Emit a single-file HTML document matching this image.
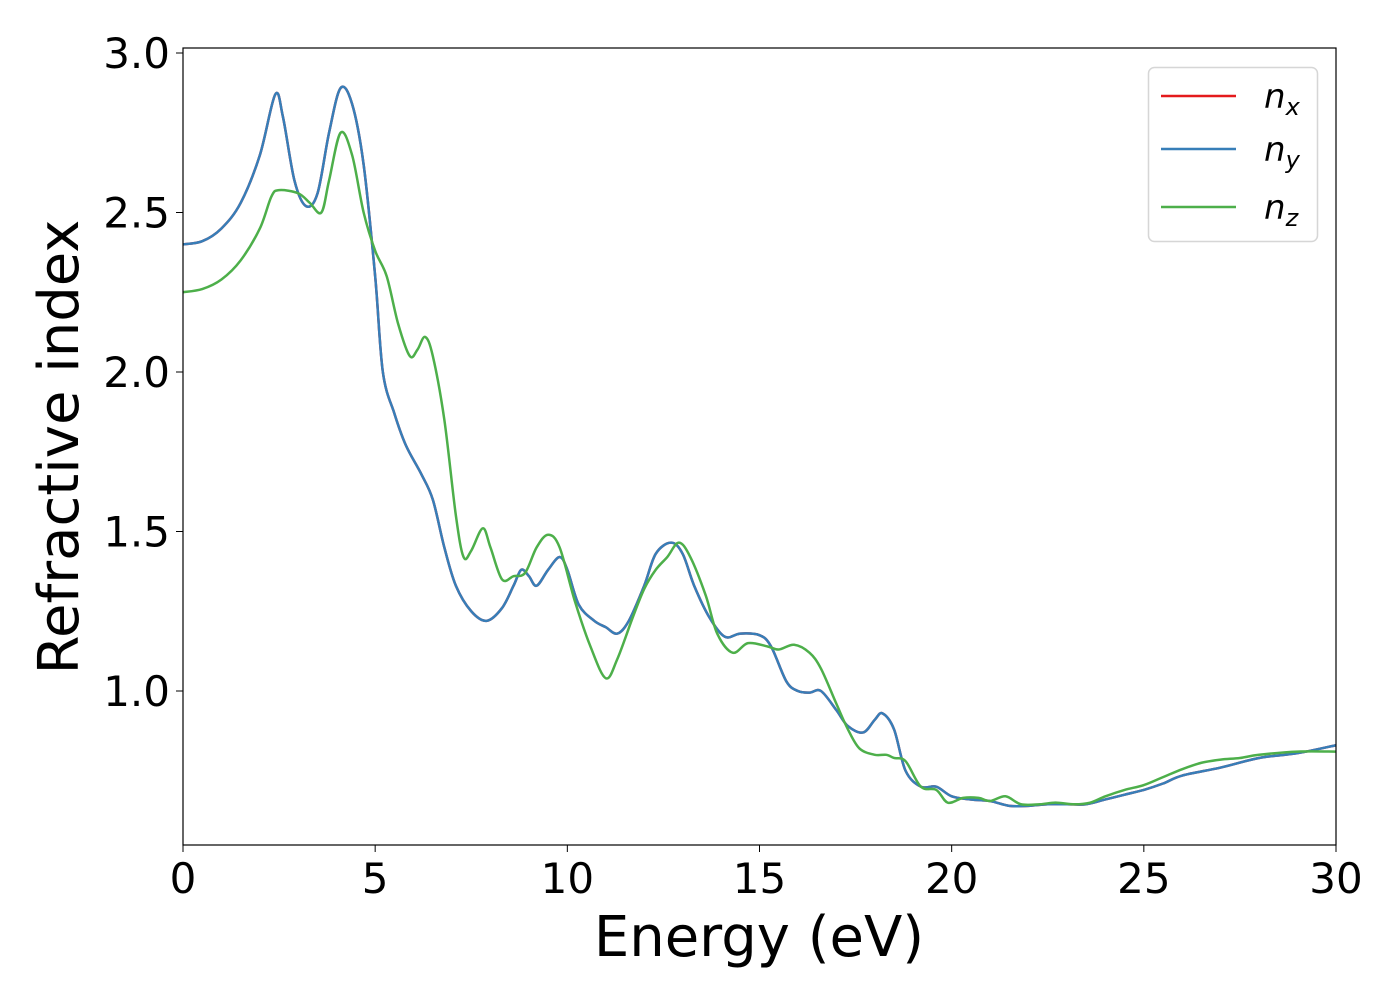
<!DOCTYPE html>
<html><head><meta charset="utf-8"><style>
body{margin:0;background:#fff;}
svg text{font-family:"DejaVu Sans","Liberation Sans",sans-serif;fill:#000;}
</style></head><body>
<svg id="chart" width="1400" height="1000" xmlns="http://www.w3.org/2000/svg">
<g id="series"></g>
<rect x="183" y="48" width="1153" height="797" fill="none" stroke="#000" stroke-width="1.2"/>
<g id="xticks"></g>
<g id="yticks"></g>
<text x="759" y="956" font-size="56" text-anchor="middle">Energy (eV)</text>
<text transform="translate(78,447) rotate(-90)" font-size="56" text-anchor="middle">Refractive index</text>
<g>
<rect x="1148.5" y="67.5" width="169" height="174" rx="6" fill="#fff" stroke="#d6d6d6" stroke-width="1.5"/>
<g><line x1="1161" y1="96" x2="1236" y2="96" stroke="#e41a1c" stroke-width="2.5"/><text x="1264" y="108" font-size="34" font-style="italic">n<tspan font-size="24" dy="7">x</tspan></text></g>
<g><line x1="1161" y1="149" x2="1236" y2="149" stroke="#377eb8" stroke-width="2.5"/><text x="1264" y="161" font-size="34" font-style="italic">n<tspan font-size="24" dy="7">y</tspan></text></g>
<g><line x1="1161" y1="207" x2="1236" y2="207" stroke="#4daf4a" stroke-width="2.5"/><text x="1264" y="219" font-size="34" font-style="italic">n<tspan font-size="24" dy="7">z</tspan></text></g>
</g>
</svg>
<script>
const energyXY=[0,0.5,1,1.5,2,2.4,2.6,2.9,3.2,3.5,3.8,4.1,4.4,4.7,5.0,5.2,5.5,5.8,6.2,6.5,6.8,7.1,7.5,7.9,8.3,8.6,8.8,9.0,9.2,9.5,9.8,10.0,10.3,10.7,11.0,11.3,11.6,12.0,12.3,12.7,13.0,13.3,13.7,14.1,14.5,15.0,15.3,15.7,16.0,16.3,16.6,17.0,17.3,17.7,18.0,18.2,18.5,18.8,19.2,19.6,20.0,20.5,21.0,21.5,22.0,22.5,23.0,23.5,24.0,24.5,25,25.5,26,27,28,29,30];
const nxValues=[2.40,2.41,2.45,2.53,2.68,2.87,2.80,2.60,2.52,2.56,2.75,2.89,2.84,2.65,2.30,2.00,1.87,1.77,1.68,1.60,1.45,1.33,1.25,1.22,1.26,1.33,1.38,1.36,1.33,1.38,1.42,1.38,1.27,1.22,1.20,1.18,1.22,1.33,1.43,1.465,1.43,1.33,1.23,1.17,1.18,1.175,1.14,1.03,1.00,0.995,1.00,0.94,0.89,0.87,0.91,0.93,0.88,0.75,0.70,0.70,0.67,0.66,0.655,0.64,0.64,0.645,0.645,0.645,0.66,0.675,0.69,0.71,0.735,0.76,0.79,0.805,0.83];
const nyValues=nxValues.slice();
const energyZ=[0,0.5,1,1.5,2,2.3,2.5,3.0,3.3,3.6,3.8,4.1,4.4,4.7,5.0,5.3,5.6,5.9,6.1,6.3,6.5,6.8,7.1,7.3,7.5,7.8,8.0,8.3,8.6,8.9,9.2,9.5,9.8,10.2,10.6,11.0,11.3,11.7,12.0,12.3,12.6,12.9,13.2,13.6,13.9,14.3,14.7,15.2,15.5,15.9,16.3,16.6,17.0,17.3,17.6,18.0,18.3,18.5,18.8,19.2,19.6,19.9,20.3,20.7,21.0,21.4,21.8,22.3,22.7,23.2,23.6,24.0,24.5,25,25.5,26,26.5,27,27.5,28,29,30];
const nzValues=[2.25,2.26,2.29,2.35,2.45,2.55,2.57,2.56,2.53,2.50,2.60,2.75,2.68,2.50,2.38,2.30,2.15,2.05,2.07,2.11,2.05,1.85,1.55,1.42,1.44,1.51,1.45,1.35,1.36,1.37,1.45,1.49,1.45,1.28,1.14,1.04,1.10,1.23,1.32,1.38,1.42,1.465,1.42,1.30,1.18,1.12,1.15,1.14,1.13,1.145,1.12,1.07,0.96,0.88,0.82,0.80,0.80,0.79,0.78,0.70,0.69,0.65,0.665,0.665,0.655,0.67,0.645,0.645,0.65,0.645,0.65,0.67,0.69,0.705,0.73,0.755,0.775,0.785,0.79,0.80,0.81,0.81];
const xTickValues=[0,5,10,15,20,25,30];
const yTickValues=[1.0,1.5,2.0,2.5,3.0];
const yTickLabels=["1.0","1.5","2.0","2.5","3.0"];

const NS="http://www.w3.org/2000/svg";
function xScale(v){return 183+(v-0)*(1336-183)/30;}
function yScale(v){return 691-(v-1.0)*319;}
function smoothPath(xs,ys){
  const p=xs.map((x,i)=>[xScale(x),yScale(ys[i])]);
  let d="M"+p[0][0].toFixed(2)+","+p[0][1].toFixed(2);
  for(let i=0;i<p.length-1;i++){
    const p0=p[Math.max(0,i-1)],p1=p[i],p2=p[i+1],p3=p[Math.min(p.length-1,i+2)];
    const c1=[p1[0]+(p2[0]-p0[0])/6,p1[1]+(p2[1]-p0[1])/6];
    const c2=[p2[0]-(p3[0]-p1[0])/6,p2[1]-(p3[1]-p1[1])/6];
    d+=" C"+c1[0].toFixed(2)+","+c1[1].toFixed(2)+" "+c2[0].toFixed(2)+","+c2[1].toFixed(2)+" "+p2[0].toFixed(2)+","+p2[1].toFixed(2);
  }
  return d;
}
const g=document.getElementById("series");
function addLine(xs,ys,color,name){
  const el=document.createElementNS(NS,"path");
  el.setAttribute("d",smoothPath(xs,ys));
  el.setAttribute("fill","none");
  el.setAttribute("stroke",color);
  el.setAttribute("stroke-width","2.5");
  
  
  g.appendChild(el);
}
addLine(energyXY,nxValues,"#e41a1c","line-nx");
addLine(energyXY,nyValues,"#377eb8","line-ny");
addLine(energyZ,nzValues,"#4daf4a","line-nz");

const xt=document.getElementById("xticks");
xTickValues.forEach(v=>{
  const l=document.createElementNS(NS,"line");
  l.setAttribute("x1",xScale(v));l.setAttribute("x2",xScale(v));
  l.setAttribute("y1",845);l.setAttribute("y2",852);
  l.setAttribute("stroke","#000");
  
  
  xt.appendChild(l);
  const t=document.createElementNS(NS,"text");
  t.setAttribute("x",xScale(v));t.setAttribute("y",893);
  t.setAttribute("font-size","42");t.setAttribute("text-anchor","middle");
  t.textContent=String(v);
  
  
  xt.appendChild(t);
});
const yt=document.getElementById("yticks");
yTickValues.forEach((v,i)=>{
  const l=document.createElementNS(NS,"line");
  l.setAttribute("x1",176);l.setAttribute("x2",183);
  l.setAttribute("y1",yScale(v));l.setAttribute("y2",yScale(v));
  l.setAttribute("stroke","#000");
  
  
  yt.appendChild(l);
  const t=document.createElementNS(NS,"text");
  t.setAttribute("x",170);t.setAttribute("y",yScale(v)+15);
  t.setAttribute("font-size","42");t.setAttribute("text-anchor","end");
  t.textContent=yTickLabels[i];
  
  
  yt.appendChild(t);
});
</script>
</body></html>
